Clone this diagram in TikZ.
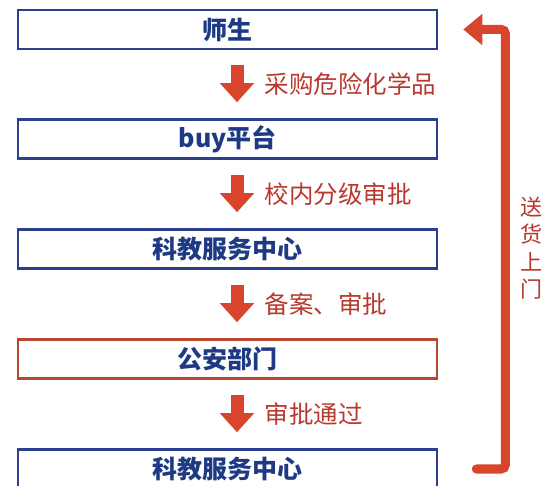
\documentclass[tikz,border=0pt]{standalone}
\usepackage{fontspec}
\setmainfont{Noto Sans CJK SC}
\usetikzlibrary{arrows.meta}
\definecolor{boxblue}{HTML}{2B3F8E}
\definecolor{textblue}{HTML}{1F3A84}
\definecolor{arrowred}{HTML}{D8452C}
\definecolor{labred}{HTML}{B8372E}
\definecolor{boxred}{HTML}{B8472F}

\begin{document}
\begin{tikzpicture}[x=1pt, y=-1pt,
 box/.style={draw=boxblue, line width=2.5pt, fill=white, minimum width=419pt,
 minimum height=39pt, inner sep=0pt, text=textblue,
 font=\fontsize{25}{28}\selectfont\bfseries},
 lab/.style={anchor=west, inner sep=0pt, xshift=21pt, text=labred,
 font=\fontsize{24.5}{28}\selectfont},
 flow/.style={-{Triangle[width=33pt,length=19pt]}, line width=13pt, draw=arrowred,
 shorten <=15pt, shorten >=16pt},
 back/.style={-{Triangle[width=30pt,length=19pt]}, line width=9pt, draw=arrowred,
 line cap=round, rounded corners=4pt, shorten <=38pt, shorten >=25pt}]
\useasboundingbox (0,0) rectangle (544,486);
\node[box] (teach) at (227.5,29.5) {师生};
\node[box] (buy) at (227.5,139) {buy平台};
\node[box] (center) at (227.5,249) {科教服务中心};
\node[box, draw=boxred] (police) at (227.5,359) {公安部门};
\node[box] (center2) at (227.5,469) {科教服务中心};
\coordinate (ax) at (237,0);
\draw[flow] (teach.south -| ax) -- node[lab]{采购危险化学品} (buy.north -| ax);
\draw[flow] (buy.south -| ax) -- node[lab]{校内分级审批} (center.north -| ax);
\draw[flow] (center.south -| ax) -- node[lab]{备案、审批} (police.north -| ax);
\draw[flow] (police.south -| ax) -- node[lab]{审批通过} (center2.north -| ax);
% delivery back to the top
\draw[back] (center2.east) -- ++(67,0) |- (teach.east);
\node[text=labred, align=center, inner sep=0pt, font=\fontsize{22}{27.5}\selectfont]
 (deliver) at (531,248) {送\\货\\上\\门};
\end{tikzpicture}
\end{document}
